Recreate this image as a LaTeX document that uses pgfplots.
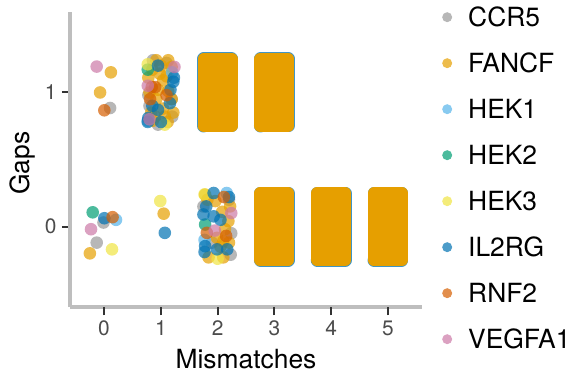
\documentclass[border=0pt]{standalone}
\usepackage{pgfplots}
\pgfplotsset{compat=1.18}
\usepackage{fontspec}
\setmainfont{TeX Gyre Heros}
\definecolor{ccr5}{HTML}{999999}
\definecolor{fancf}{HTML}{E69F00}
\definecolor{hekone}{HTML}{56B4E9}
\definecolor{hektwo}{HTML}{009E73}
\definecolor{hekthree}{HTML}{F0E442}
\definecolor{il2rg}{HTML}{0072B2}
\definecolor{rnf2}{HTML}{D55E00}
\definecolor{vegfa}{HTML}{CC79A7}
\definecolor{axgray}{RGB}{190,190,190}
\pgfplotsset{
  pts/.style={only marks, mark=*, mark size=6.3bp, color=#1,
    mark options={fill=#1, fill opacity=0.7, draw opacity=0}},
  blockunder/.style={forget plot, only marks=false, mark=none, sharp plot, draw=il2rg, fill=il2rg, draw opacity=0.75, line width=13bp, line join=round, line cap=round},
  blockover/.style={forget plot, only marks=false, mark=none, sharp plot, draw=fancf, fill=fancf, line width=12bp, line join=round, line cap=round},
}
\begin{document}
\begin{tikzpicture}
\begin{axis}[
  at={(0,0)}, anchor=south west,
  scale only axis, width=352bp, height=295bp,
  xmin=-0.6, xmax=5.6, ymin=-0.6, ymax=1.6,
  axis lines*=left,
  axis line style={-, draw=axgray, line width=3.5bp},
  xtick={0,1,2,3,4,5}, ytick={0,1},
  tick align=outside,
  major tick length=8bp,
  xtick style={line width=2bp, draw=black!80},
  ytick style={line width=2bp, draw=black!80},
  extra x ticks={0,1,2,3,4,5},
  extra x tick labels={},
  extra x tick style={tick align=outside, xtick pos=bottom, major tick length=8bp,
    tick style={line width=2bp, draw=black!80}},
  /pgf/number format/assume math mode=true,
  ticklabel style={font=\fontsize{21}{24}\selectfont, text=black!70},
  xticklabel style={yshift=-2bp},
  yticklabel style={xshift=-2bp},
  xlabel={Mismatches}, ylabel={Gaps},
  label style={font=\fontsize{26.5}{30}\selectfont},
  xlabel style={at={(axis description cs:0.5,0)}, anchor=base, yshift=-61bp},
  ylabel style={at={(axis description cs:0,0.488)}, anchor=base, yshift=40bp},
  legend style={at={(axis description cs:1,1)}, anchor=north west, draw=none, fill=none,
    font=\fontsize{26.5}{30}\selectfont, row sep=28bp, xshift=14bp, yshift=6bp,
    nodes={inner sep=0pt, text height=18bp, text depth=0pt}},
  legend cell align=left,
  legend image code/.code={\path[draw=none, fill=none] (0bp,0bp) -- (29bp,0bp);\draw[mark repeat=2,mark phase=2,#1,mark size=5bp] plot coordinates {(0bp,0bp)(8bp,0bp)(16bp,0bp)};},
]
% dense blocks
\addplot[blockunder] coordinates {(1.755,0.75)(2.245,0.75)(2.245,1.25)(1.755,1.25)(1.755,0.75)};
\addplot[blockover] coordinates {(1.755,0.75)(2.245,0.75)(2.245,1.25)(1.755,1.25)(1.755,0.75)};
\addplot[blockunder] coordinates {(2.755,0.75)(3.245,0.75)(3.245,1.25)(2.755,1.25)(2.755,0.75)};
\addplot[blockover] coordinates {(2.755,0.75)(3.245,0.75)(3.245,1.25)(2.755,1.25)(2.755,0.75)};
\addplot[blockunder] coordinates {(2.755,-0.25)(3.245,-0.25)(3.245,0.25)(2.755,0.25)(2.755,-0.25)};
\addplot[blockover] coordinates {(2.755,-0.25)(3.245,-0.25)(3.245,0.25)(2.755,0.25)(2.755,-0.25)};
\addplot[blockunder] coordinates {(3.755,-0.25)(4.245,-0.25)(4.245,0.25)(3.755,0.25)(3.755,-0.25)};
\addplot[blockover] coordinates {(3.755,-0.25)(4.245,-0.25)(4.245,0.25)(3.755,0.25)(3.755,-0.25)};
\addplot[blockunder] coordinates {(4.755,-0.25)(5.245,-0.25)(5.245,0.25)(4.755,0.25)(4.755,-0.25)};
\addplot[blockover] coordinates {(4.755,-0.25)(5.245,-0.25)(5.245,0.25)(4.755,0.25)(4.755,-0.25)};
% series
\addplot[pts=ccr5] coordinates {
(0.106,0.884) (-0.01,0.03) (-0.13,-0.12)
(0.86,1.24) (0.78,0.98) (0.8,0.9) (1.19,0.95) (1.2,0.82) (0.95,0.76) (1.1,1.22)
(1.75,0.15) (2.24,-0.05) (2.23,-0.21) (2.2,0.2) (1.9,-0.12)};
\addlegendentry{CCR5}
\addplot[pts=fancf] coordinates {
(0.12,1.15) (-0.07,1.0) (-0.25,-0.2) (1.05,0.096)
(0.92,1.24) (1.13,1.24) (1.19,1.19) (0.78,1.11) (0.98,1.14) (1.04,1.09) (0.92,0.95) (1.13,1.01)
(1.19,0.95) (0.86,0.79) (1.07,0.82) (1.04,0.88) (0.85,1.17) (0.95,1.02) (1.22,0.85) (0.9,0.82)
(1.0,1.2) (0.8,1.0) (1.12,0.78) (0.83,0.85) (1.1,1.12)
(1.78,0.237) (1.96,0.19) (2.08,0.11) (2.22,0.15) (2.19,0.04) (2.13,-0.02) (1.99,-0.084)
(2.1,-0.11) (1.84,-0.23) (2.1,-0.23) (2.05,-0.15) (1.82,0.2) (2.2,-0.12)};
\addlegendentry{FANCF}
\addplot[pts=hekone] coordinates {
(0.21,0.05) (0.77,0.79) (1.2,1.15) (2.16,0.25) (1.77,-0.1)};
\addlegendentry{HEK1}
\addplot[pts=hektwo] coordinates {
(-0.2,0.106) (0.77,1.17) (1.78,0.015)};
\addlegendentry{HEK2}
\addplot[pts=hekthree] coordinates {
(0.14,-0.17) (0.99,0.19) (0.77,1.21) (1.07,0.76) (1.77,0.24) (2.0,-0.24)};
\addlegendentry{HEK3}
\addplot[pts=il2rg] coordinates {
(0.005,0.062) (1.07,-0.047)
(0.95,1.2) (1.22,1.08) (1.23,1.11) (1.16,0.92) (0.95,0.87) (0.78,0.81) (0.77,0.78) (1.0,0.78) (1.17,1.02) (0.85,0.9)
(1.93,0.25) (1.8,0.15) (1.75,0.09) (1.93,0.076) (1.78,-0.146) (1.99,-0.17) (2.17,-0.17) (1.77,-0.19) (2.05,0.05) (2.2,0.22)};
\addlegendentry{IL2RG}
\addplot[pts=rnf2] coordinates {
(0.005,0.867) (0.15,0.07) (0.84,1.04) (0.81,0.95) (0.9,1.04) (1.1,0.98)
(2.11,0.22) (1.81,-0.047) (2.15,-0.07)};
\addlegendentry{RNF2}
\addplot[pts=vegfa] coordinates {
(-0.13,1.193) (-0.23,-0.02) (1.24,1.19) (0.77,1.05) (0.8,0.8) (2.24,0.1) (1.95,-0.03)};
\addlegendentry{VEGFA1}
\end{axis}
\pgfresetboundingbox
\path (-70bp,-66bp) rectangle (504bp,307bp);
\end{tikzpicture}
\end{document}
